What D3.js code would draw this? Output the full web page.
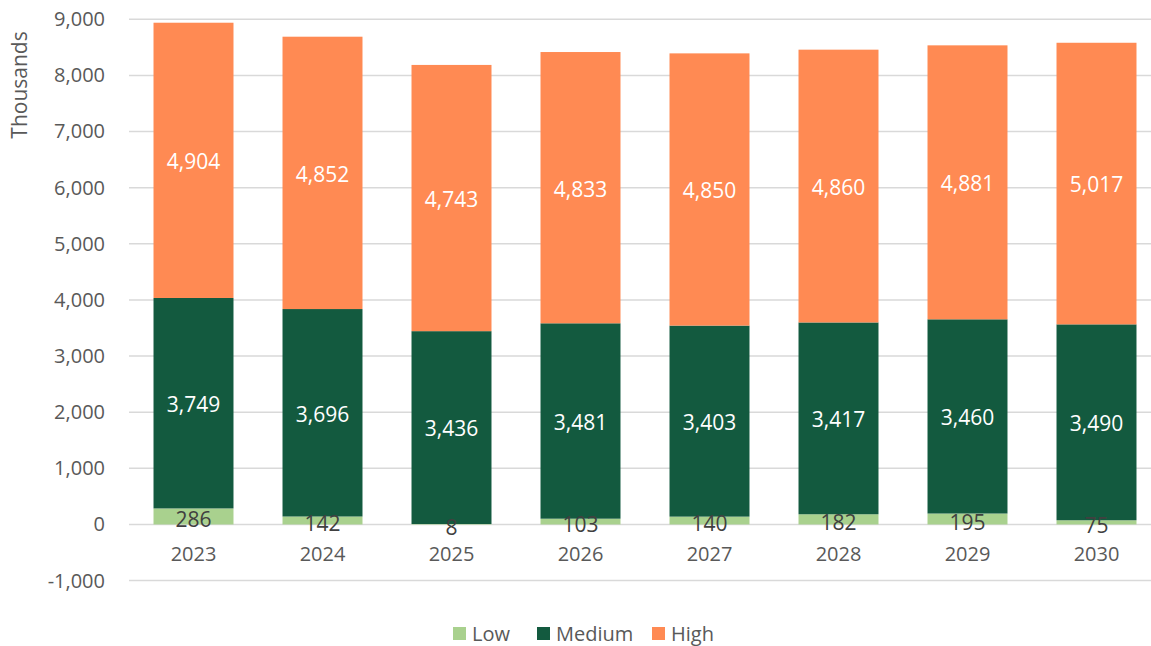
<!DOCTYPE html>
<html>
<head>
<meta charset="utf-8">
<script src="https://cdn.jsdelivr.net/npm/d3@7"></script>
<style>
  body { margin: 0; background: #fff; }
  text { font-family: "Open Sans", sans-serif; }
</style>
</head>
<body>
<svg id="chart" width="1151" height="646"></svg>
<script>
const years = ["2023", "2024", "2025", "2026", "2027", "2028", "2029", "2030"];
const low = [286, 142, 8, 103, 140, 182, 195, 75];
const medium = [3749, 3696, 3436, 3481, 3403, 3417, 3460, 3490];
const high = [4904, 4852, 4743, 4833, 4850, 4860, 4881, 5017];
const seriesNames = ["Low", "Medium", "High"];
const colors = ["#a9d18e", "#135a3f", "#ff8a53"];
const yTicks = [-1000, 0, 1000, 2000, 3000, 4000, 5000, 6000, 7000, 8000, 9000];

const svg = d3.select("#chart");
const rows = years.map((y, i) => ({ year: y, Low: low[i], Medium: medium[i], High: high[i] }));
const stacked = d3.stack().keys(seriesNames)(rows);

const x = d3.scaleBand().domain(years).range([129, 1161]).paddingInner(0.38).paddingOuter(0.19);
const y = d3.scaleLinear().domain([-1000, 9000]).range([580.6, 19.3]);
const fmt = v => d3.format(",")(v).replace("\u2212", "-");

// gridlines
svg.append("g")
  .selectAll("line")
  .data(yTicks)
  .join("line")
  .attr("x1", 129)
  .attr("x2", 1151)
  .attr("y1", d => y(d))
  .attr("y2", d => y(d))
  .attr("stroke", "#d9d9d9")
  .attr("stroke-width", 1.5);

// y axis labels
const yAxis = svg.append("g")
  .attr("transform", "translate(105,0)")
  .call(d3.axisLeft(y).tickValues(yTicks).tickFormat(fmt).tickSize(0).tickPadding(0));
yAxis.select(".domain").remove();
yAxis.selectAll("text")
  .attr("fill", "#595959")
  .style("font-size", "20px")
  .style("font-family", "'Open Sans', sans-serif");

svg.append("text")
  .attr("transform", "translate(27,85) rotate(-90)")
  .attr("text-anchor", "middle")
  .attr("fill", "#595959")
  .style("font-size", "21px")
  .text("Thousands");

// bars
const layers = svg.append("g")
  .selectAll("g")
  .data(stacked)
  .join("g")
  .attr("fill", (d, i) => colors[i]);

layers.selectAll("rect")
  .data(d => d)
  .join("rect")
  .attr("x", d => x(d.data.year))
  .attr("width", x.bandwidth())
  .attr("y", d => y(d[1]))
  .attr("height", d => y(d[0]) - y(d[1]));

// data labels, drawn after all bars so the small Low ones stay visible
const labels = svg.append("g");
stacked.forEach((layer, i) => {
  labels.append("g")
    .selectAll("text")
    .data(layer)
    .join("text")
    .attr("x", d => x(d.data.year) + x.bandwidth() / 2)
    .attr("y", d => y((d[0] + d[1]) / 2) + (i === 0 ? 3.5 : 1.5))
    .attr("dy", "0.35em")
    .attr("text-anchor", "middle")
    .attr("fill", i === 0 ? "#404040" : "#ffffff")
    .style("font-size", "21px")
    .text(d => fmt(d[1] - d[0]));
});

// x axis labels
const xAxis = svg.append("g")
  .attr("transform", "translate(0,547)")
  .call(d3.axisBottom(x).tickSize(0).tickPadding(0));
xAxis.select(".domain").remove();
xAxis.selectAll("text")
  .attr("fill", "#595959")
  .style("font-size", "20px")
  .style("font-family", "'Open Sans', sans-serif");

// legend
const legendX = [453, 537, 652];
const legend = svg.append("g")
  .selectAll("g")
  .data(seriesNames)
  .join("g")
  .attr("transform", (d, i) => `translate(${legendX[i]},627)`);
legend.append("rect")
  .attr("width", 13)
  .attr("height", 13)
  .attr("fill", (d, i) => colors[i]);
legend.append("text")
  .attr("x", 19)
  .attr("y", 6.5)
  .attr("dy", "0.35em")
  .attr("fill", "#595959")
  .style("font-size", "20px")
  .text(d => d);
</script>
</body>
</html>
